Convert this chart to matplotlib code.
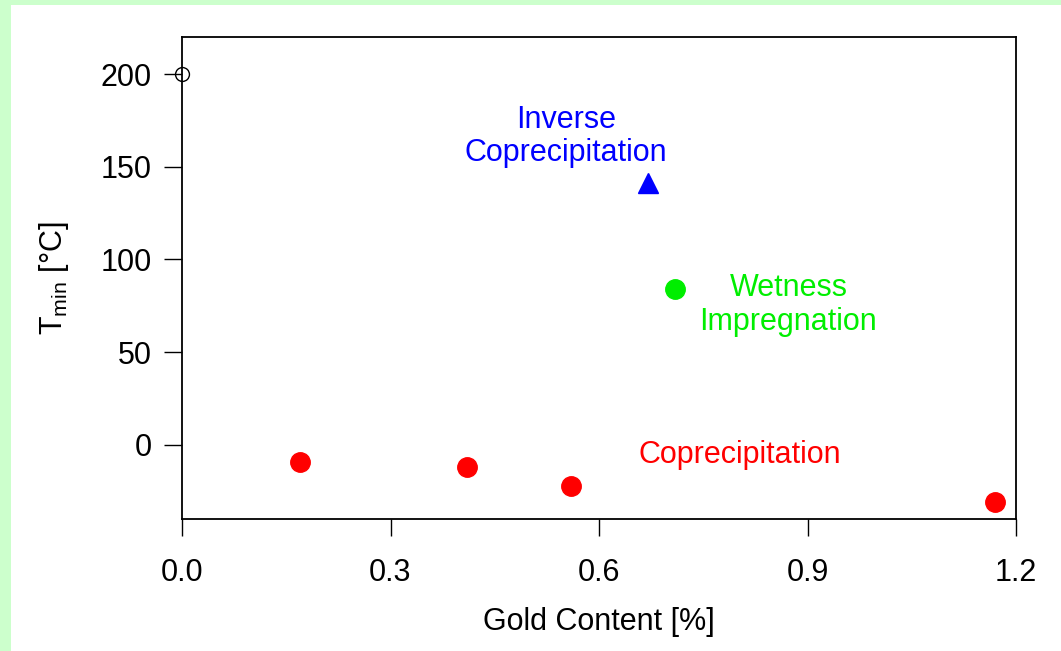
import matplotlib
matplotlib.use("Agg")
import matplotlib.pyplot as plt
from matplotlib.patches import Rectangle

plt.rcParams['font.family'] = ['Liberation Sans', 'DejaVu Sans']
plt.rcParams['mathtext.fontset'] = 'custom'
plt.rcParams['mathtext.rm'] = 'Liberation Sans'
plt.rcParams['mathtext.it'] = 'Liberation Sans'

# coprecipitation series
copr_x = [0.17, 0.41, 0.56, 1.17]
copr_y = [-9, -12, -22, -31]
# inverse coprecipitation
inv_x = [0.67]
inv_y = [141]
# wetness impregnation
wet_x = [0.71]
wet_y = [84]
# reference point (no gold)
ref_x = [0.0]
ref_y = [200]

xticks = [0.0, 0.3, 0.6, 0.9, 1.2]
yticks = [0, 50, 100, 150, 200]

FS = 22

fig = plt.figure(figsize=(10.61, 6.51), dpi=100)
fig.patch.set_facecolor('#ccffcc')
fig.patches.append(Rectangle((11 / 1061, 0), 1, (651 - 5) / 651,
                             transform=fig.transFigure, facecolor='white',
                             edgecolor='none', zorder=-10))

ax = fig.add_axes([182 / 1061, 1 - 519 / 651, (1016 - 182) / 1061, (519 - 37) / 651])
ax.set_facecolor('white')

ax.plot(copr_x, copr_y, 'o', color='#ff0000', markersize=14, clip_on=False)
ax.plot(inv_x, inv_y, '^', color='#0000ff', markersize=15, clip_on=False)
ax.plot(wet_x, wet_y, 'o', color='#00ee00', markersize=14, clip_on=False)
ax.plot(ref_x, ref_y, 'o', markerfacecolor='none', markeredgecolor='black',
        markersize=10, markeredgewidth=1, clip_on=False, zorder=5)

ax.text(0.5525, 175.3, 'Inverse', color='#0000ff', fontsize=FS, ha='center', va='center')
ax.text(0.5525, 157.5, 'Coprecipitation', color='#0000ff', fontsize=FS, ha='center', va='center')
ax.text(0.873, 84.4, 'Wetness', color='#00ee00', fontsize=FS, ha='center', va='center')
ax.text(0.872, 66.1, 'Impregnation', color='#00ee00', fontsize=FS, ha='center', va='center')
ax.text(0.803, -5.5, 'Coprecipitation', color='#ff0000', fontsize=FS, ha='center', va='center')

ax.set_xlim(0, 1.2)
ax.set_ylim(-40, 220)
ax.set_xticks(xticks)
ax.set_xticklabels(['0.0', '0.3', '0.6', '0.9', '1.2'])
ax.set_yticks(yticks)
ax.tick_params(axis='x', direction='out', length=12, width=1, pad=16, labelsize=FS)
ax.tick_params(axis='y', direction='out', length=13, width=1, pad=9, labelsize=FS)
for s in ax.spines.values():
    s.set_linewidth(1.3)

ax.set_xlabel('Gold Content [%]', fontsize=FS, labelpad=14)
ax.set_ylabel(r'T$_{\mathrm{min}}$ [°C]', fontsize=FS, labelpad=21)

fig.savefig('out.png', dpi=100, facecolor=fig.get_facecolor())
